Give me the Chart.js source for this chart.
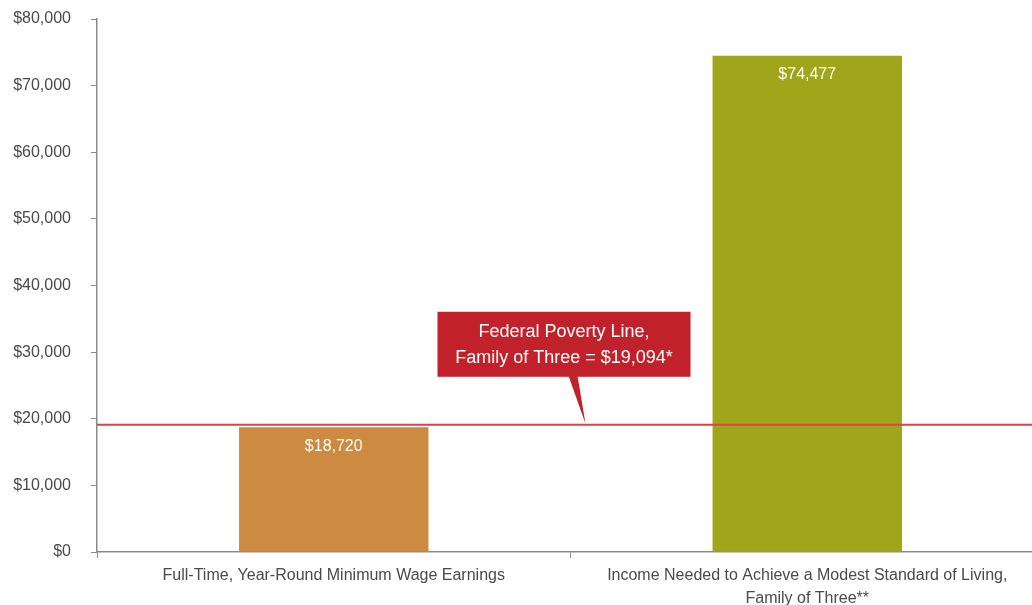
<!DOCTYPE html>
<html>
<head>
<meta charset="utf-8">
<script src="https://cdn.jsdelivr.net/npm/chart.js@4.4.1/dist/chart.umd.min.js"></script>
<style>
  html, body { margin: 0; padding: 0; background: #fff; overflow: hidden; }
  #wrap { width: 1044px; height: 605px; }
</style>
</head>
<body>
<div id="wrap"><canvas id="income-chart" width="1044" height="605"></canvas></div>
<script>
var categories = [
  "Full-Time, Year-Round Minimum Wage Earnings",
  ["Income Needed to Achieve a Modest Standard of Living,", "Family of Three**"]
];
var incomeValues = [18720, 74477];
var barColors = ["#cc8b41", "#a0a619"];
var povertyLine = 19094;
var povertyText = ["Federal Poverty Line,", "Family of Three = $19,094*"];
var yMax = 80000;
var yStep = 10000;

var FONT = "'Liberation Sans', Arial, sans-serif";

function money(v) {
  return "$" + Number(v).toLocaleString("en-US");
}

// labels inside the bars, red poverty line and its callout box
var overlay = {
  id: "overlay",
  afterDatasetsDraw: function (chart) {
    var ctx = chart.ctx;
    var area = chart.chartArea;
    var y = chart.scales.y;
    var meta = chart.getDatasetMeta(0);

    ctx.save();
    ctx.fillStyle = "#fff";
    ctx.font = "16px " + FONT;
    ctx.textAlign = "center";
    ctx.textBaseline = "middle";
    meta.data.forEach(function (bar, i) {
      ctx.fillText(money(incomeValues[i]), bar.x, bar.y + 19);
    });

    var py = y.getPixelForValue(povertyLine);
    ctx.strokeStyle = "#d9434c";
    ctx.lineWidth = 2;
    ctx.beginPath();
    ctx.moveTo(area.left, py);
    ctx.lineTo(area.right, py);
    ctx.stroke();

    // callout
    var mid = (area.left + area.right) / 2;
    var boxL = mid - 133, boxR = mid + 120;
    var boxB = py - 48, boxT = boxB - 65;
    ctx.fillStyle = "#c1212b";
    ctx.fillRect(boxL, boxT, boxR - boxL, boxB - boxT);
    ctx.beginPath();
    ctx.moveTo(mid - 2, boxB - 1);
    ctx.lineTo(mid + 7, boxB - 1);
    ctx.lineTo(mid + 15, py - 1);
    ctx.closePath();
    ctx.fill();

    ctx.fillStyle = "#fff";
    ctx.font = "18px " + FONT;
    var cx = (boxL + boxR) / 2;
    ctx.fillText(povertyText[0], cx, boxT + 20);
    ctx.fillText(povertyText[1], cx, boxT + 46);
    ctx.restore();
  }
};

new Chart(document.getElementById("income-chart"), {
  type: "bar",
  data: {
    labels: categories,
    datasets: [{
      data: incomeValues,
      backgroundColor: barColors,
      barPercentage: 0.4,
      categoryPercentage: 1.0
    }]
  },
  options: {
    responsive: false,
    animation: false,
    layout: { padding: { top: 19, right: 0, left: 0, bottom: 0 } },
    plugins: {
      legend: { display: false },
      tooltip: { enabled: false }
    },
    scales: {
      x: {
        grid: {
          drawOnChartArea: false,
          drawTicks: true,
          tickLength: 6,
          color: "#8a8a8a",
          lineWidth: 1
        },
        border: { color: "#8a8a8a", width: 1.5 },
        ticks: {
          color: "#4a4a4a",
          font: { family: FONT, size: 16, lineHeight: 1.38 },
          padding: 7,
          maxRotation: 0,
          autoSkip: false
        },
        afterFit: function (axis) {
          axis.height = 53;
          axis.paddingLeft = 0;
          axis.paddingRight = 0;
          axis.paddingTop = 0;
          axis.paddingBottom = 0;
        }
      },
      y: {
        min: 0,
        max: yMax,
        grid: {
          drawOnChartArea: false,
          drawTicks: true,
          tickLength: 6,
          color: "#8a8a8a"
        },
        border: { color: "#8a8a8a", width: 1.5 },
        ticks: {
          stepSize: yStep,
          color: "#4a4a4a",
          font: { family: FONT, size: 16 },
          padding: 20,
          callback: function (v) { return money(v); }
        },
        afterFit: function (axis) {
          axis.width = 97;
          axis.paddingTop = 0;
          axis.paddingBottom = 0;
        }
      }
    }
  },
  plugins: [overlay]
});
</script>
</body>
</html>
